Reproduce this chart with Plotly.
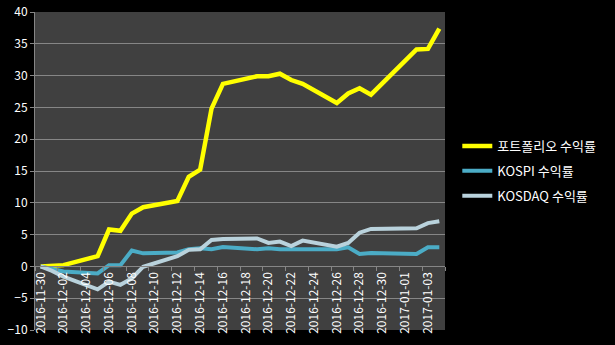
import plotly.graph_objects as go

dates = ["2016-11-30", "2016-12-01", "2016-12-02", "2016-12-05", "2016-12-06", "2016-12-07",
         "2016-12-08", "2016-12-09", "2016-12-12", "2016-12-13", "2016-12-14", "2016-12-15",
         "2016-12-16", "2016-12-19", "2016-12-20", "2016-12-21", "2016-12-22", "2016-12-23",
         "2016-12-26", "2016-12-27", "2016-12-28", "2016-12-29", "2017-01-02", "2017-01-03",
         "2017-01-04"]
portfolio = [0, 0.05, 0.2, 1.6, 5.8, 5.6, 8.3, 9.3, 10.3, 14.1, 15.2, 24.8, 28.7, 29.9, 29.9,
             30.3, 29.3, 28.7, 25.7, 27.2, 28.0, 27.0, 34.1, 34.2, 37.4]
kospi = [0, -0.45, -0.8, -1.1, 0.2, 0.2, 2.5, 2.05, 2.2, 2.7, 2.85, 2.7, 3.05, 2.7, 2.85,
         2.7, 2.7, 2.7, 2.7, 3.0, 1.95, 2.1, 1.95, 3.0, 3.0]
kosdaq = [0, -0.7, -1.6, -3.6, -2.4, -2.9, -1.9, -0.05, 1.6, 2.6, 2.7, 4.15, 4.3, 4.4, 3.7,
          3.9, 3.2, 4.05, 3.1, 3.7, 5.3, 5.9, 6.0, 6.8, 7.1]
names = ["포트폴리오 수익률", "KOSPI 수익률", "KOSDAQ 수익률"]
tick_dates = ["2016-11-30", "2016-12-02", "2016-12-04", "2016-12-06", "2016-12-08", "2016-12-10",
              "2016-12-12", "2016-12-14", "2016-12-16", "2016-12-18", "2016-12-20", "2016-12-22",
              "2016-12-24", "2016-12-26", "2016-12-28", "2016-12-30", "2017-01-01", "2017-01-03"]
y_ticks = [-10, -5, 0, 5, 10, 15, 20, 25, 30, 35, 40]

FONT = "Noto Sans CJK KR"
fig = go.Figure()
for i, (vals, name, color, w) in enumerate([(portfolio, names[0], "#FFFF00", 4.5),
                                            (kospi, names[1], "#4BACC6", 4),
                                            (kosdaq, names[2], "#B9D2DC", 4)]):
    fig.add_trace(go.Scatter(x=dates, y=vals, name=name, mode="lines", legendgroup=f"g{i}",
                             line=dict(color=color, width=w)))

fig.update_layout(
    width=615, height=345,
    margin=dict(l=35, r=170, t=12, b=15),
    paper_bgcolor="#000000", plot_bgcolor="#404040",
    font=dict(family=FONT, color="#FFFFFF", size=12),
    showlegend=True,
    legend=dict(x=1.03, xanchor="left", y=0.5, yanchor="middle",
                font=dict(size=13, color="#FFFFFF"), traceorder="grouped", tracegroupgap=5,
                itemwidth=30, bgcolor="rgba(0,0,0,0)"),
    xaxis=dict(type="date", range=["2016-11-29 12:00", "2017-01-04 12:00"],
               tickvals=tick_dates, ticktext=tick_dates, tickangle=-90,
               ticks="", showgrid=False, zeroline=False, automargin=False,
               showline=True, linecolor="#868686", linewidth=1,
               anchor="free", position=0.2,
               tickfont=dict(size=12, color="#FFFFFF"),
               minor=dict(ticks="outside", tick0="2016-11-29 12:00", dtick=172800000,
                          ticklen=4, tickcolor="#868686", showgrid=False)),
    yaxis=dict(range=[-10, 40], tickvals=y_ticks, showgrid=True, gridcolor="#868686",
               gridwidth=1, zeroline=False, showline=True, linecolor="#868686",
               ticks="outside", ticklen=4, tickcolor="#868686", automargin=False,
               tickfont=dict(size=12, color="#FFFFFF")),
)
fig.write_html("out.html")
